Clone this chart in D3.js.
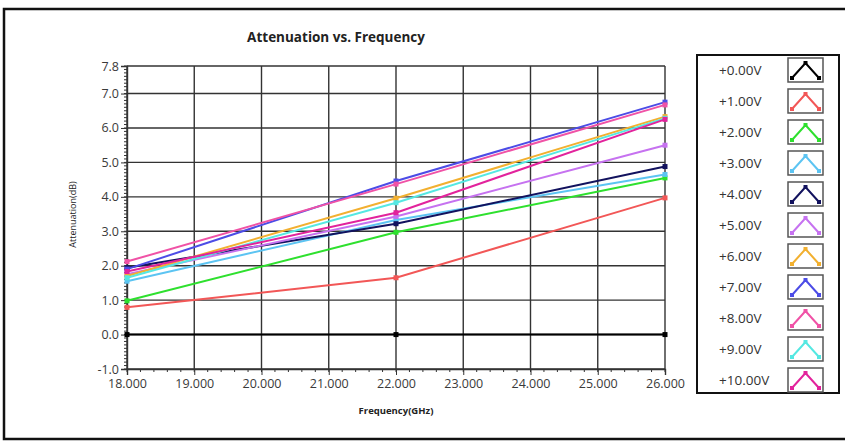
<!DOCTYPE html>
<html>
<head>
<meta charset="utf-8">
<script src="https://cdn.jsdelivr.net/npm/d3@7"></script>
<style>
  html, body { margin: 0; padding: 0; background: #fff; }
  svg { display: block; }
  text { font-family: "Open Sans", "DejaVu Sans", sans-serif; }
</style>
</head>
<body>
<svg id="chart" width="845" height="443"></svg>
<script>
// Frequencies where attenuation was measured (GHz)
const frequencies = [18, 22, 26];

// Bias voltages (legend labels)
const biasLabels = ["+0.00V", "+1.00V", "+2.00V", "+3.00V", "+4.00V", "+5.00V",
                    "+6.00V", "+7.00V", "+8.00V", "+9.00V", "+10.00V"];

// Attenuation (dB) per bias voltage at 18, 22, 26 GHz
const att0V  = [0.00, 0.00, 0.00];
const att1V  = [0.79, 1.65, 3.97];
const att2V  = [0.98, 2.97, 4.55];
const att3V  = [1.55, 3.33, 4.65];
const att4V  = [1.94, 3.22, 4.88];
const att5V  = [1.75, 3.43, 5.50];
const att6V  = [1.70, 3.96, 6.33];
const att7V  = [1.90, 4.46, 6.75];
const att8V  = [2.12, 4.37, 6.67];
const att9V  = [1.65, 3.83, 6.28];
const att10V = [1.83, 3.54, 6.25];

const seriesValues = [att0V, att1V, att2V, att3V, att4V, att5V, att6V, att7V, att8V, att9V, att10V];
const seriesColors = ["#000000", "#f25757", "#2ee02e", "#5cc4f2", "#12125e", "#c672f0",
                      "#f2b030", "#4c4ce6", "#f052a6", "#55e8e2", "#e2239c"];

// Axis tick values
const xTicks = [18, 19, 20, 21, 22, 23, 24, 25, 26];
const yTicks = [-1, 0, 1, 2, 3, 4, 5, 6, 7, 7.8];

const svg = d3.select("#chart");

// Outer frame
svg.append("rect")
  .attr("x", 4).attr("y", 9).attr("width", 850).attr("height", 430)
  .attr("fill", "none").attr("stroke", "#111").attr("stroke-width", 2.5);

const plot = { left: 127, right: 665, top: 66, bottom: 369 };

const x = d3.scaleLinear().domain([18, 26]).range([plot.left, plot.right]);
const y = d3.scaleLinear().domain([-1, 7.8]).range([plot.bottom, plot.top]);

// Title
svg.append("text")
  .attr("x", 336).attr("y", 42)
  .attr("text-anchor", "middle")
  .attr("font-size", 13.5).attr("font-weight", "bold").attr("fill", "#222")
  .text("Attenuation vs. Frequency");

// Plot background
svg.append("rect")
  .attr("x", plot.left).attr("y", plot.top)
  .attr("width", plot.right - plot.left).attr("height", plot.bottom - plot.top)
  .attr("fill", "#fff");

// Grid lines
const grid = svg.append("g");
grid.selectAll("line.v").data(xTicks).join("line")
  .attr("class", "v")
  .attr("x1", d => x(d)).attr("x2", d => x(d))
  .attr("y1", plot.top).attr("y2", plot.bottom)
  .attr("stroke", "#333").attr("stroke-width", 1.4);
grid.selectAll("line.h").data(yTicks).join("line")
  .attr("class", "h")
  .attr("x1", plot.left).attr("x2", plot.right)
  .attr("y1", d => y(d)).attr("y2", d => y(d))
  .attr("stroke", "#333").attr("stroke-width", 1.4);

// Minor ticks
const yMinor = d3.range(-1, 7.8001, 0.1);
svg.append("g").selectAll("line").data(yMinor).join("line")
  .attr("x1", plot.left - 3).attr("x2", plot.left)
  .attr("y1", d => y(d)).attr("y2", d => y(d))
  .attr("stroke", "#333").attr("stroke-width", 1);
const xMinor = d3.range(18, 26.0001, 0.2);
svg.append("g").selectAll("line").data(xMinor).join("line")
  .attr("x1", d => x(d)).attr("x2", d => x(d))
  .attr("y1", plot.bottom).attr("y2", plot.bottom + 3)
  .attr("stroke", "#333").attr("stroke-width", 1);

// Axes (plain hyphen for negatives)
const fmtY = d => d3.format(".1f")(d).replace("\u2212", "-");
const yAxis = d3.axisLeft(y).tickValues(yTicks).tickFormat(fmtY).tickSize(6).tickPadding(2);
const xAxis = d3.axisBottom(x).tickValues(xTicks).tickFormat(d3.format(".3f")).tickSize(6).tickPadding(4);

const gy = svg.append("g").attr("transform", `translate(${plot.left},0)`).call(yAxis);
const gx = svg.append("g").attr("transform", `translate(0,${plot.bottom})`).call(xAxis);
[gx, gy].forEach(g => {
  g.select(".domain").attr("stroke", "#333").attr("stroke-width", 1.4);
  g.selectAll(".tick line").attr("stroke", "#333");
  g.selectAll(".tick text").attr("font-size", 12.5).attr("fill", "#3a3a3a")
    .attr("font-family", "'Open Sans', 'DejaVu Sans', sans-serif");
});

// Axis labels
svg.append("text")
  .attr("x", plot.left + (plot.right - plot.left) / 2).attr("y", 414)
  .attr("text-anchor", "middle").attr("font-size", 9.5).attr("font-weight", "bold").attr("fill", "#222")
  .text("Frequency(GHz)");
svg.append("text")
  .attr("transform", `translate(76,${(plot.top + plot.bottom) / 2 - 3}) rotate(-90)`)
  .attr("text-anchor", "middle").attr("font-size", 9).attr("fill", "#222")
  .text("Attenuation(dB)");

// Series lines
const line = d3.line().x((d, i) => x(frequencies[i])).y(d => y(d));
const seriesG = svg.append("g");
seriesValues.forEach((vals, k) => {
  seriesG.append("path")
    .datum(vals)
    .attr("d", line)
    .attr("fill", "none")
    .attr("stroke", seriesColors[k])
    .attr("stroke-width", 2);
  seriesG.selectAll(null).data(vals).join("rect")
    .attr("x", (d, i) => x(frequencies[i]) - 2.5)
    .attr("y", d => y(d) - 2.5)
    .attr("width", 5).attr("height", 5)
    .attr("fill", seriesColors[k]);
});

// Legend: labels left-aligned, swatch box drawn on top of the label column
const legend = svg.append("g");
legend.append("rect")
  .attr("x", 697).attr("y", 55).attr("width", 142).attr("height", 338)
  .attr("fill", "#fff").attr("stroke", "#111").attr("stroke-width", 2);

biasLabels.forEach((label, k) => {
  const top = 58 + k * 31;
  legend.append("text")
    .attr("x", 719).attr("y", top + 17)
    .attr("text-anchor", "start").attr("font-size", 13.5).attr("fill", "#333")
    .text(label);
  legend.append("rect")
    .attr("x", 788).attr("y", top).attr("width", 35).attr("height", 24)
    .attr("fill", "#fff").attr("stroke", "#555").attr("stroke-width", 1.5);
  const pts = [[792, top + 20], [805.5, top + 5], [819, top + 20]];
  legend.append("path")
    .attr("d", d3.line()(pts))
    .attr("fill", "none").attr("stroke", seriesColors[k]).attr("stroke-width", 2);
  legend.selectAll(null).data(pts).join("rect")
    .attr("x", d => d[0] - 2).attr("y", d => d[1] - 2)
    .attr("width", 4).attr("height", 4)
    .attr("fill", seriesColors[k]);
});
</script>
</body>
</html>
